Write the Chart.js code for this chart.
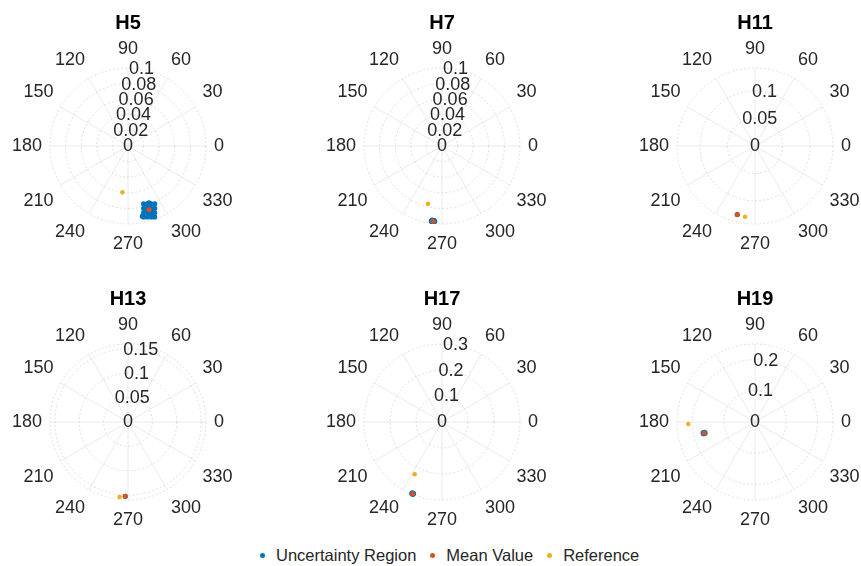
<!DOCTYPE html>
<html>
<head>
<meta charset="utf-8">
<script src="https://cdn.jsdelivr.net/npm/chart.js@4/dist/chart.umd.min.js"></script>
<style>
  html, body { margin: 0; padding: 0; background: #fff; width: 861px; height: 566px; overflow: hidden; position: relative;
    font-family: "Liberation Sans", Arial, Helvetica, sans-serif; }
  canvas.polar { position: absolute; }
  #legend { position: absolute; left: 260px; top: 545px; height: 20px; display: flex; align-items: center;
    font-size: 16.5px; color: #262626; white-space: nowrap; }
  #legend .item { display: flex; align-items: center; margin-right: 14px; }
  #legend .dot { width: 5px; height: 5px; border-radius: 50%; margin-right: 11px; }
</style>
</head>
<body>
<div id="legend">
  <div class="item"><span class="dot" style="background:#0072BD"></span>Uncertainty Region</div>
  <div class="item"><span class="dot" style="background:#D95319"></span>Mean Value</div>
  <div class="item"><span class="dot" style="background:#EDB120"></span>Reference</div>
</div>
<script>
// Harmonic phasors: magnitude and phase angle (degrees) for each harmonic order
const harmonics = ['H5', 'H7', 'H11', 'H13', 'H17', 'H19'];
const radialMax = [0.1, 0.1, 0.142, 0.16, 0.3, 0.25];
const radialTicks = [
  [0, 0.02, 0.04, 0.06, 0.08, 0.1],
  [0, 0.02, 0.04, 0.06, 0.08, 0.1],
  [0, 0.05, 0.1],
  [0, 0.05, 0.1, 0.15],
  [0, 0.1, 0.2, 0.3],
  [0, 0.1, 0.2]
];
const angleTicks = [0, 30, 60, 90, 120, 150, 180, 210, 240, 270, 300, 330];

const meanMagnitude = [0.086, 0.097, 0.1289, 0.1525, 0.298, 0.167];
const meanAngle     = [288.3, 263.2, 255.5, 267.9, 247.7, 192.2];
const referenceMagnitude = [0.0597, 0.0763, 0.1302, 0.1548, 0.227, 0.2139];
const referenceAngle     = [263.1, 256.4, 262.0, 263.6, 242.4, 181.7];

// Uncertainty region samples as [angle (deg), magnitude]
const uncertaintyH5 = [
  [285.1, 0.0769], [288.4, 0.0782], [291.7, 0.0799], [294.7, 0.0817],
  [284.1, 0.0823], [287.2, 0.0835], [290.3, 0.0851], [293.2, 0.0868],
  [283.2, 0.0877], [286.1, 0.0889], [289.1, 0.0904], [291.8, 0.0920],
  [282.4, 0.0932], [285.2, 0.0943], [288.0, 0.0957], [290.6, 0.0972],
  [290.3, 0.0777], [281.6, 0.0919], [285.2, 0.0856], [291.2, 0.0886],
  [287.1, 0.0921], [289.3, 0.0816]
];
const uncertaintyH7 = [
  [261.9, 0.097], [263.2, 0.097], [264.5, 0.097], [262.5, 0.0958],
  [263.9, 0.0958], [262.5, 0.0982], [263.9, 0.0982]
];
const uncertaintyH11 = [[255.5, 0.1289]];
const uncertaintyH13 = [[267.9, 0.1525]];
const uncertaintyH17 = [
  [247.2, 0.2955], [248.2, 0.2955], [247.2, 0.2995], [248.2, 0.2995], [247.7, 0.298]
];
const uncertaintyH19 = [
  [191.6, 0.1645], [192.8, 0.1645], [191.6, 0.1695], [192.8, 0.1695], [192.2, 0.167]
];
const uncertainty = [uncertaintyH5, uncertaintyH7, uncertaintyH11, uncertaintyH13, uncertaintyH17, uncertaintyH19];

// Circle centres of the six panels on the page
const panelCenters = [[128.3, 146], [441.7, 146], [755, 146], [127.7, 422], [441.7, 422], [755, 422]];
const CANVAS_W = 240, CANVAS_H = 256, CX = 120, CY = 142, RADIUS = 78;

const FONT = '"Liberation Sans", Arial, Helvetica, sans-serif';
const deg = Math.PI / 180;
const toXY = pts => pts.map(([a, m]) => ({ x: m * Math.cos(a * deg), y: m * Math.sin(a * deg) }));

// Draws the polar grid (rings, spokes) and the angle / magnitude labels
const polarGrid = {
  id: 'polarGrid',
  beforeDatasetsDraw(chart, args, opts) {
    const { ctx } = chart;
    const xs = chart.scales.x, ys = chart.scales.y;
    const cx = xs.getPixelForValue(0), cy = ys.getPixelForValue(0);
    const pr = v => xs.getPixelForValue(v) - cx;
    const R = pr(opts.rmax);
    ctx.save();
    ctx.lineWidth = 0.8;
    ctx.strokeStyle = '#e4e4e4';
    angleTicks.forEach(a => {
      ctx.beginPath();
      ctx.moveTo(cx, cy);
      ctx.lineTo(cx + R * Math.cos(a * deg), cy - R * Math.sin(a * deg));
      ctx.stroke();
    });
    ctx.setLineDash([2, 2]);
    ctx.strokeStyle = '#d7d7d7';
    opts.ticks.filter(v => v > 0 && v < opts.rmax - 1e-9).forEach(v => {
      ctx.beginPath();
      ctx.arc(cx, cy, pr(v), 0, 2 * Math.PI);
      ctx.stroke();
    });
    ctx.beginPath();
    ctx.arc(cx, cy, R, 0, 2 * Math.PI);
    ctx.stroke();
    ctx.setLineDash([]);

    ctx.fillStyle = '#262626';
    ctx.font = '18px ' + FONT;
    ctx.textBaseline = 'middle';
    const d = R + 8;
    angleTicks.forEach(a => {
      const c = Math.cos(a * deg), s = Math.sin(a * deg);
      ctx.textAlign = c > 0.1 ? 'left' : (c < -0.1 ? 'right' : 'center');
      let yOff = 0;
      if (s > 0.1) yOff = -11;
      else if (s < -0.1) yOff = 12;
      ctx.fillText(String(a), cx + d * c, cy - d * s + yOff);
    });
    ctx.textAlign = 'center';
    const rAng = 80 * deg;
    opts.ticks.forEach(v => {
      const r = pr(v);
      ctx.fillText(String(v), cx + r * Math.cos(rAng), cy - r * Math.sin(rAng));
    });
    ctx.restore();
  }
};

harmonics.forEach((name, i) => {
  const canvas = document.createElement('canvas');
  canvas.className = 'polar';
  canvas.width = CANVAS_W;
  canvas.height = CANVAS_H;
  canvas.style.left = (panelCenters[i][0] - CX) + 'px';
  canvas.style.top = (panelCenters[i][1] - CY) + 'px';
  document.body.appendChild(canvas);
  const rmax = radialMax[i];
  new Chart(canvas, {
    type: 'scatter',
    data: {
      datasets: [
        { label: 'Uncertainty Region', data: toXY(uncertainty[i]), backgroundColor: '#0072BD',
          pointRadius: 2.6, pointBorderWidth: 0, order: 3 },
        { label: 'Mean Value', data: toXY([[meanAngle[i], meanMagnitude[i]]]), backgroundColor: '#D95319',
          pointRadius: 2.5, pointBorderWidth: 0, order: 1 },
        { label: 'Reference', data: toXY([[referenceAngle[i], referenceMagnitude[i]]]), backgroundColor: '#EDB120',
          pointRadius: 2.3, pointBorderWidth: 0, order: 2 }
      ]
    },
    options: {
      responsive: false,
      animation: false,
      events: [],
      layout: { padding: { left: CX - RADIUS, right: CANVAS_W - CX - RADIUS, top: 0, bottom: CANVAS_H - CY - RADIUS } },
      scales: {
        x: { type: 'linear', min: -rmax, max: rmax, display: false },
        y: { type: 'linear', min: -rmax, max: rmax, display: false }
      },
      plugins: {
        legend: { display: false },
        tooltip: { enabled: false },
        title: {
          display: true, text: name, color: '#000',
          font: { size: 20, weight: 'bold', family: FONT, lineHeight: 1.2 },
          padding: { top: 7, bottom: CY - RADIUS - 7 - 24 }
        },
        polarGrid: { rmax: rmax, ticks: radialTicks[i] }
      }
    },
    plugins: [polarGrid]
  });
});
</script>
</body>
</html>
